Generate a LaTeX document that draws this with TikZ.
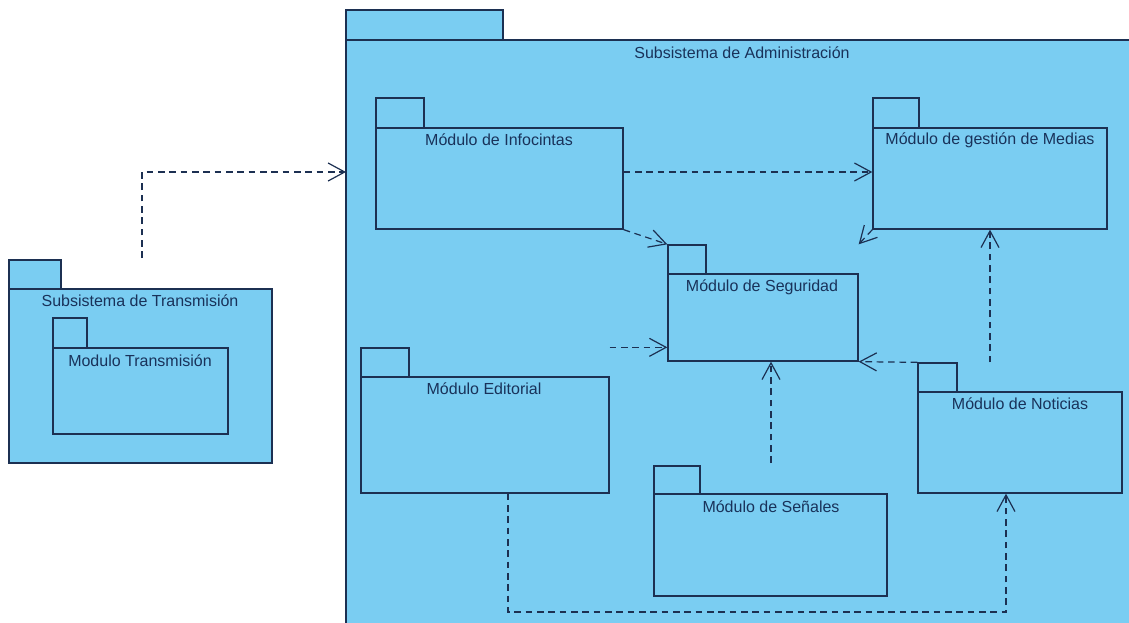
\documentclass[tikz,border=0pt]{standalone}
\usepackage{fontspec}
\setmainfont{Liberation Sans}
\usetikzlibrary{arrows.meta,fit}
\definecolor{pkgfill}{RGB}{122,205,242}
\definecolor{pkgline}{RGB}{28,48,82}
\definecolor{txtcol}{RGB}{25,50,90}
\tikzset{
 pkg/.style={draw=pkgline, fill=pkgfill, line width=1pt, inner sep=0pt},
 pkglabel/.style={text=txtcol, font=\fontsize{12}{14}\selectfont, inner sep=0pt},
 dep/.style={draw=pkgline, line width=0.9pt, dash pattern=on 5pt off 3.5pt,
   -{Straight Barb[length=12.5pt,width=13.5pt,line width=0.9pt]}},
}
\begin{document}
\begin{tikzpicture}[x=0.75pt,y=-0.75pt]
\useasboundingbox (0,0) rectangle (1129,622);
\begin{scope}
\clip (-6,-6) rectangle (1136,630);
\fill[white] (-6,-6) rectangle (1136,630);
% Subsistema de Administracion (extends past the right and bottom edges)
\node[pkg, fit={(346,10)(503,40)}] (admtab) {};
\node[pkg, fit={(346,40)(1160,660)}] (adm) {};
\end{scope}
\node[pkglabel] (admlbl) at (742,53) {Subsistema de Administración};

% Subsistema de Transmision
\node[pkg, fit={(9,260)(61,289)}] (trtab) {};
\node[pkg, fit={(9,289)(272,463)}] (tr) {};
\node[pkglabel] (trlbl) at (140,301) {Subsistema de Transmisión};
\node[pkg, fit={(53,318)(87,348)}] (mttab) {};
\node[pkg, fit={(53,348)(228,434)}] (mt) {};
\node[pkglabel] (mtlbl) at (140,361) {Modulo Transmisión};

% Infocintas
\node[pkg, fit={(376,98)(424,128)}] (inftab) {};
\node[pkg, fit={(376,128)(623,229)}] (inf) {};
\node[pkglabel] (inflbl) at (499,140) {Módulo de Infocintas};

% Medias
\node[pkg, fit={(873,98)(919,128)}] (medtab) {};
\node[pkg, fit={(873,128)(1107,229)}] (med) {};
\node[pkglabel] (medlbl) at (990,140) {Módulo de gestión de Medias};

% Seguridad
\node[pkg, fit={(668,245)(706,274)}] (segtab) {};
\node[pkg, fit={(668,274)(858,361)}] (seg) {};
\node[pkglabel] (seglbl) at (762,287) {Módulo de Seguridad};

% Editorial
\node[pkg, fit={(361,348)(409,377)}] (editab) {};
\node[pkg, fit={(361,377)(609,493)}] (edi) {};
\node[pkglabel] (edilbl) at (484,389) {Módulo Editorial};

% Noticias
\node[pkg, fit={(918,363)(957,392)}] (nottab) {};
\node[pkg, fit={(918,392)(1122,493)}] (not) {};
\node[pkglabel] (notlbl) at (1020,404) {Módulo de Noticias};

% Senales
\node[pkg, fit={(654,466)(700,494)}] (sentab) {};
\node[pkg, fit={(654,494)(887,596)}] (sen) {};
\node[pkglabel] (senlbl) at (771,507) {Módulo de Señales};

% connectors
\coordinate (t1) at (142,258);
\coordinate (a1) at (346,172);
\draw[dep] (t1) |- (a1);

\draw[dep] (inf.east |- 0,172) -- (med.west |- 0,172);
\draw[dep] (inf.south east) -- (segtab.north west);
\draw[dep] (med.south west) -- (seg.east |- segtab.north);
\draw[dep] (edi.east |- editab.north) -- (seg.west |- editab.north);
\draw[dep] (nottab.north west) -- (seg.south east);
\draw[dep] (med.south |- nottab.north) -- (med.south);
\coordinate (s1) at (771,463);
\draw[dep] (s1) -- (seg.south -| s1);
\coordinate (e1) at (508,612);
\coordinate (c9) at (1006,612);
\draw[dep] (edi.south -| e1) |- (c9) -- (not.south -| c9);
\end{tikzpicture}
\end{document}
